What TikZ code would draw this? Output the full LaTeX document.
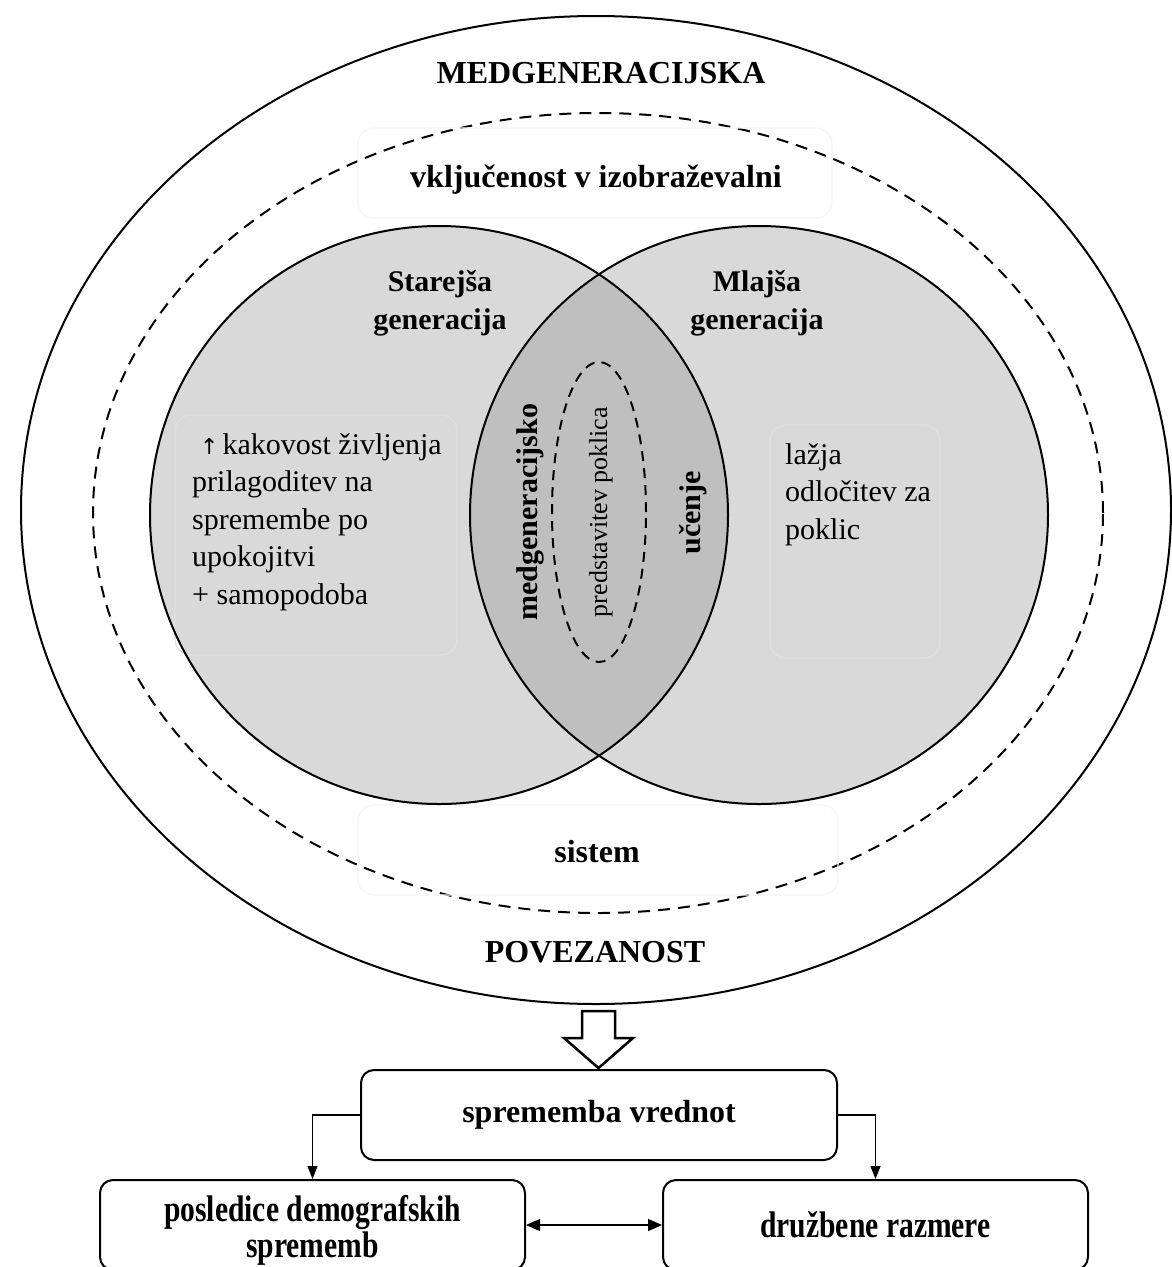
\documentclass[tikz,border=0pt]{standalone}
\usepackage{fontspec}
\setmainfont{Liberation Serif}
\newfontfamily\djv{DejaVu Sans}
\newfontfamily\narrowserif[FakeStretch=0.8]{Liberation Serif}
\usetikzlibrary{arrows.meta}
\begin{document}
\begin{tikzpicture}[x=1pt,y=-1pt,
  hd/.style={font=\fontsize{32}{38}\selectfont\bfseries, inner sep=0pt},
  bd/.style={font=\fontsize{30}{38}\selectfont\bfseries, inner sep=0pt, align=center},
  tx/.style={font=\fontsize{30}{37.5}\selectfont, inner sep=0pt, align=left},
  faint/.style={draw=black!4, line width=1.2pt, rounded corners=16pt},
  faintin/.style={draw=black!12, line width=1.2pt, rounded corners=16pt},
  solidline/.style={line width=2pt},
  dashline/.style={line width=2pt, dash pattern=on 12pt off 8pt},
  boxst/.style={draw, line width=2pt, rounded corners=13pt, minimum height=90pt, inner sep=0pt},
  narrowbd/.style={font=\narrowserif\fontsize{37}{36}\selectfont\bfseries, align=center},
  conn/.style={line width=1.3pt, -{Triangle[length=13pt,width=10pt]}},
]
\useasboundingbox[fill=white] (0,0) rectangle (1172,1267);

% outer ellipse and dashed ellipse
\draw[solidline, fill=white] (596,510) ellipse [x radius=575pt, y radius=494pt];
\draw[dashline] (598,513) ellipse [x radius=505pt, y radius=400pt];

% faint boxes on white
\draw[faint] (358,128) rectangle (832,218);
\draw[faint] (358,805) rectangle (838,895);

% Venn circles
\fill[black!15] (439,515) circle [radius=289pt];
\fill[black!15] (759,515) circle [radius=289pt];
\begin{scope}
  \clip (439,515) circle [radius=289pt];
  \fill[black!25] (759,515) circle [radius=289pt];
\end{scope}
\draw[faintin] (175,415) rectangle (457,655);
\draw[faintin] (770,425) rectangle (940,658);
\draw[solidline] (439,515) circle [radius=289pt];
\draw[solidline] (759,515) circle [radius=289pt];
\draw[line width=2pt, dash pattern=on 10pt off 7pt] (599,512) ellipse [x radius=47pt, y radius=150pt];

% texts
\node[hd, anchor=base] (t1) at (601,83) {MEDGENERACIJSKA};
\node[hd, anchor=base] (t2) at (596,187) {vključenost v izobraževalni};
\node[bd, anchor=base] (star) at (440,329) {Starejša\\generacija};
\node[bd, anchor=base] (mla) at (757,329) {Mlajša\\generacija};
\node[tx, anchor=base west] (lt) at (192,604) {\hspace{8pt}{\djv\fontsize{22}{22}\selectfont ↑}\hspace{4pt}kakovost življenja\\prilagoditev na\\spremembe po\\upokojitvi\\+ samopodoba};
\node[tx, anchor=base west] (rt) at (785,539) {lažja\\odločitev za\\poklic};
\node[bd, anchor=base, rotate=90] (med) at (537,512) {medgeneracijsko};
\node[bd, anchor=base, rotate=90] (uce) at (700,513) {učenje};
\node[font=\fontsize{26}{30}\selectfont, inner sep=0pt, anchor=base, rotate=90] (pred) at (607,512) {predstavitev poklica};
\node[hd, anchor=base] (sis) at (597,862) {sistem};
\node[hd, anchor=base] (pov) at (595,962) {POVEZANOST};

% block arrow
\draw[line width=2.5pt, fill=white, line join=miter] (582,1011) -- (615,1011) -- (615,1038) -- (633,1038) -- (598.5,1068) -- (564,1038) -- (582,1038) -- cycle;

% bottom boxes
\node[boxst, minimum width=476pt, font=\fontsize{32}{38}\selectfont\bfseries] (spr) at (599,1115) {sprememba vrednot};
\node[boxst, minimum width=425pt, narrowbd] (pos) at (312.5,1225) {\rule{0pt}{36pt}posledice demografskih\\sprememb};
\node[boxst, minimum width=425pt, narrowbd] (dru) at (875.5,1225) {družbene razmere};

\draw[conn] (spr.west) -| (pos.north);
\draw[conn] (spr.east) -| (dru.north);
\draw[line width=1.3pt, {Triangle[length=14pt,width=12pt]}-{Triangle[length=14pt,width=12pt]}] (pos.east) -- (dru.west);
\end{tikzpicture}
\end{document}
